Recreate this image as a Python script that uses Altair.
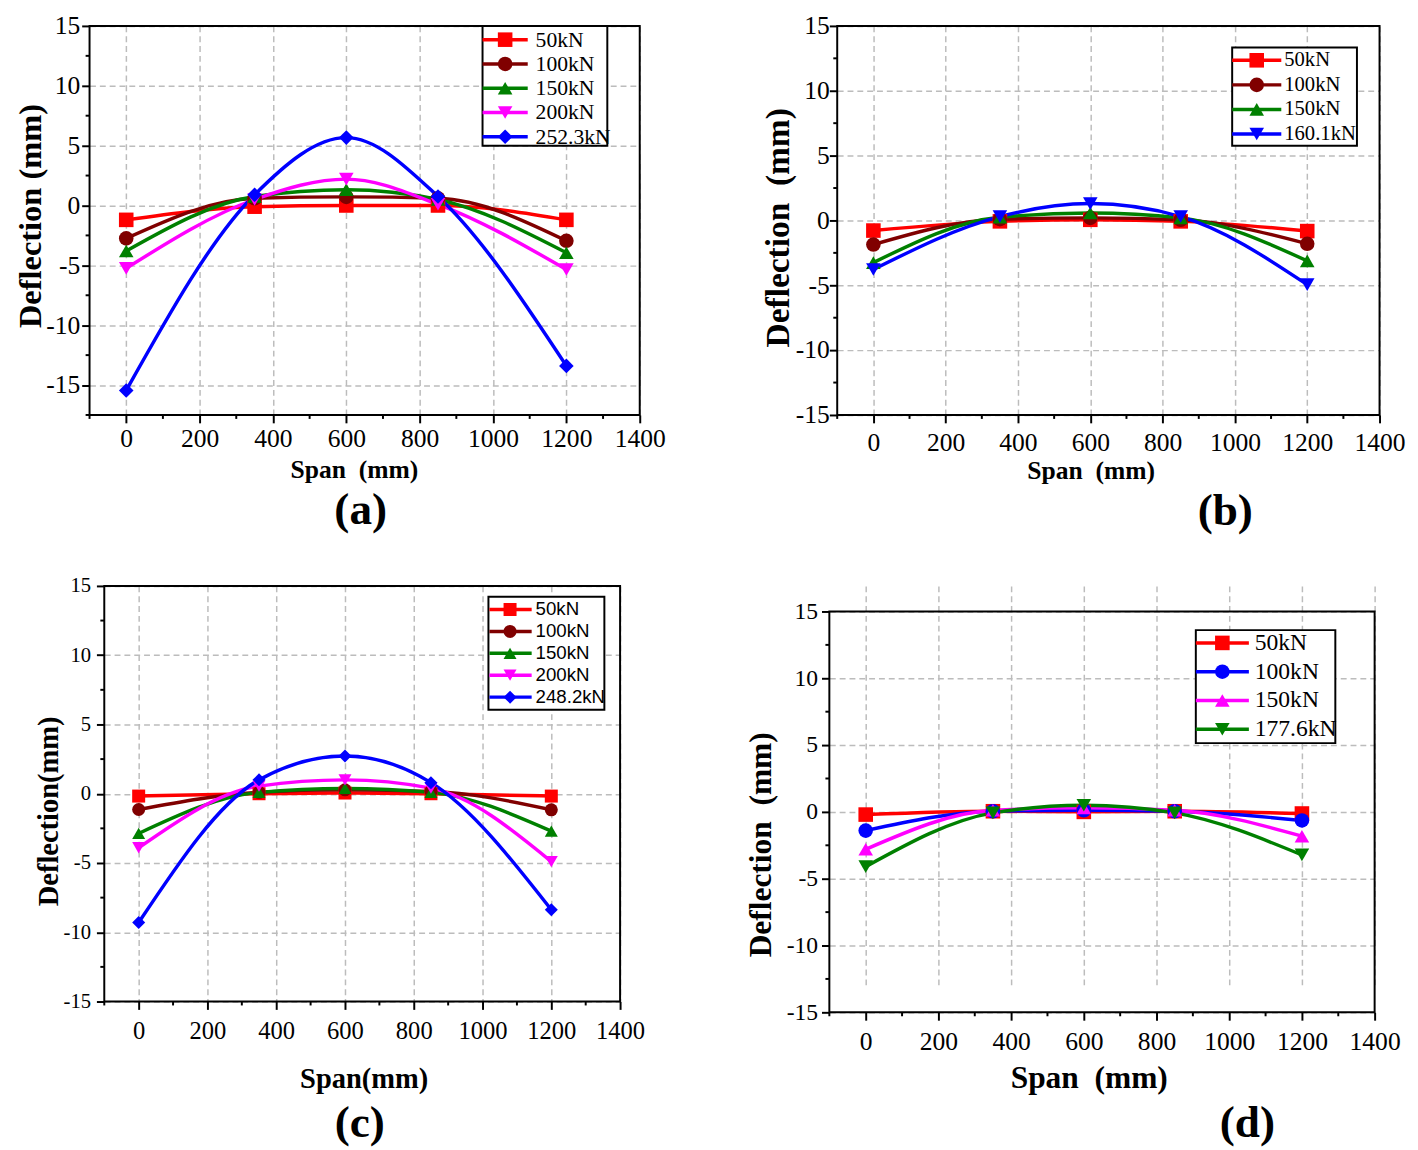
import altair as alt
import pandas as pd

# ---------------- data ----------------
span = [0, 350, 600, 850, 1200]

a_names = ["50kN", "100kN", "150kN", "200kN", "252.3kN"]
a_50 = [-1.2, -0.1, 0.0, 0.0, -1.2]
a_100 = [-2.75, 0.6, 0.72, 0.6, -2.95]
a_150 = [-3.8, 0.75, 1.32, 0.5, -3.95]
a_200 = [-5.25, 0.5, 2.2, 0.1, -5.35]
a_252 = [-15.45, 0.9, 5.67, 0.75, -13.4]

b_names = ["50kN", "100kN", "150kN", "160.1kN"]
b_50 = [-0.78, -0.07, 0.05, -0.07, -0.82]
b_100 = [-1.86, 0.1, 0.2, 0.05, -1.8]
b_150 = [-3.25, 0.25, 0.57, 0.2, -3.12]
b_160 = [-3.78, 0.3, 1.3, 0.3, -4.95]

c_names = ["50kN", "100kN", "150kN", "200kN", "248.2kN"]
c_50 = [-0.17, 0.0, 0.05, 0.0, -0.17]
c_100 = [-1.14, 0.1, 0.28, 0.17, -1.16]
c_150 = [-2.87, 0.1, 0.38, 0.1, -2.7]
c_200 = [-3.9, 0.55, 1.0, 0.4, -4.9]
c_248 = [-9.3, 1.0, 2.72, 0.8, -8.38]

d_names = ["50kN", "100kN", "150kN", "177.6kN"]
d_50 = [-0.2, 0.05, 0.0, 0.05, -0.12]
d_100 = [-1.4, 0.05, 0.12, 0.05, -0.64]
d_150 = [-2.8, 0.12, 0.3, 0.12, -1.82]
d_177 = [-4.1, -0.07, 0.5, -0.07, -3.22]

# tick positions
x_major = [0, 200, 400, 600, 800, 1000, 1200, 1400]
x_minor = [-100, 100, 300, 500, 700, 900, 1100, 1300]
y_major_a = [-15, -10, -5, 0, 5, 10, 15]
y_minor_a = [-17.5, -12.5, -7.5, -2.5, 2.5, 7.5, 12.5]
y_major = [-15, -10, -5, 0, 5, 10, 15]
y_minor = [-12.5, -7.5, -2.5, 2.5, 7.5, 12.5]

# ---------------- styles ----------------
RED, DRED, GREEN, MAG, BLUE = "#FF0000", "#800000", "#008000", "#FF00FF", "#0000FF"
SERIF = "Liberation Serif"
SANS = "Liberation Sans"
NB = "\u00a0"


def long_df(names, series):
    rows = []
    for name, vals in zip(names, series):
        for xv, yv in zip(span, vals):
            rows.append({"span": xv, "defl": yv, "load": name})
    return pd.DataFrame(rows)


def panel(names, series, colors, shapes, cfg):
    df = long_df(names, series)
    ymin = cfg["ymin"]

    xscale = alt.Scale(domain=[-100, 1400], range=cfg["xrange"], nice=False, zero=False)
    yscale = alt.Scale(domain=[ymin, 15], range=cfg["yrange"], nice=False, zero=False)
    cscale = alt.Scale(domain=names, range=colors)
    sscale = alt.Scale(domain=names, range=shapes)

    xaxis = alt.Axis(
        values=x_major,
        labelExpr="'' + datum.value",
        grid=True, gridColor="#bcbcbc", gridDash=[6, 4], gridWidth=1.5,
        domain=False, ticks=True, tickColor="black", tickWidth=2, tickSize=8,
        labelFont=SERIF, labelFontSize=cfg["xtick_fs"], labelColor="black",
        labelPadding=cfg["xlabpad"], labelFlush=False, labelOverlap=False,
        title=cfg["xtitle"], titleFont=SERIF, titleFontWeight="bold",
        titleFontSize=cfg["xtitle_fs"], titleColor="black",
        titleX=cfg["xtitleX"], titleY=cfg["xtitleY"], titleBaseline="middle",
        titleAlign="center",
    )
    yaxis = alt.Axis(
        values=cfg["ymajor"],
        labelExpr="'' + datum.value",
        grid=True, gridColor="#bcbcbc", gridDash=[6, 4], gridWidth=1.5,
        domain=False, ticks=True, tickColor="black", tickWidth=2, tickSize=8,
        labelFont=SERIF, labelFontSize=cfg["ytick_fs"], labelColor="black",
        labelPadding=cfg["ylabpad"], labelFlush=False, labelOverlap=False,
        offset=cfg["yoffset"],
        title=cfg["ytitle"], titleFont=SERIF, titleFontWeight="bold",
        titleFontSize=cfg["ytitle_fs"], titleColor="black",
        titleX=cfg["ytitleX"], titleY=cfg["ytitleY"], titleBaseline="middle",
        titleAlign="center", titleAngle=270,
    )

    base = alt.Chart(df)
    lines = base.mark_line(strokeWidth=3.5, interpolate="monotone").encode(
        x=alt.X("span:Q", scale=xscale, axis=xaxis),
        y=alt.Y("defl:Q", scale=yscale, axis=yaxis),
        color=alt.Color("load:N", scale=cscale, legend=None),
        detail="load:N",
    )
    pts = base.mark_point(filled=True, size=cfg["msize"], opacity=1).encode(
        x=alt.X("span:Q", scale=xscale),
        y=alt.Y("defl:Q", scale=yscale),
        color=alt.Color("load:N", scale=cscale, legend=None),
        shape=alt.Shape("load:N", scale=sscale, legend=None),
    )
    frame = alt.Chart(alt.Data(values=[{"f": 1}])).mark_rect(
        fill="transparent", stroke="black", strokeWidth=2
    ).encode(
        x=alt.X(datum=-100, scale=xscale),
        x2=alt.X2(datum=1400),
        y=alt.Y(datum=ymin, scale=yscale),
        y2=alt.Y2(datum=15),
    )
    # minor ticks
    xb = cfg["yrange"][0]
    xl = cfg["xrange"][0]
    xminor = alt.Chart(pd.DataFrame({"span": x_minor})).mark_rule(
        color="black", strokeWidth=2
    ).encode(
        x=alt.X("span:Q", scale=xscale),
        y=alt.value(xb), y2=alt.value(xb + 4),
    )
    yminor = alt.Chart(pd.DataFrame({"defl": cfg["yminor"]})).mark_rule(
        color="black", strokeWidth=2
    ).encode(
        y=alt.Y("defl:Q", scale=yscale),
        x=alt.value(xl - 4), x2=alt.value(xl),
    )

    # legend
    L = cfg["legend"]
    box = alt.Chart(alt.Data(values=[{"f": 1}])).mark_rect(
        fill="white", stroke="black", strokeWidth=2
    ).encode(
        x=alt.value(L["box"][0]), x2=alt.value(L["box"][1]),
        y=alt.value(L["box"][2]), y2=alt.value(L["box"][3]),
    )
    ldf = pd.DataFrame({"load": names, "order": list(range(len(names)))})
    lbase = alt.Chart(ldf).transform_calculate(
        ly=f"{L['row0']} + datum.order * {L['dy']}"
    )
    lrule = lbase.mark_rule(strokeWidth=3.5).encode(
        x=alt.value(L["line"][0]), x2=alt.value(L["line"][1]),
        y=alt.Y("ly:Q", scale=None),
        color=alt.Color("load:N", scale=cscale, legend=None),
    )
    lpts = lbase.mark_point(filled=True, size=cfg["msize"], opacity=1).encode(
        x=alt.value(L["marker"]),
        y=alt.Y("ly:Q", scale=None),
        color=alt.Color("load:N", scale=cscale, legend=None),
        shape=alt.Shape("load:N", scale=sscale, legend=None),
    )
    ltxt = lbase.mark_text(
        align="left", baseline="middle", font=L["font"], fontSize=L["fs"], color="black"
    ).encode(
        x=alt.value(L["text"]),
        y=alt.Y("ly:Q", scale=None),
        text="load:N",
    )

    ch = alt.layer(lines, pts, xminor, yminor, frame, box, lrule, lpts, ltxt).properties(
        width=cfg["w"], height=cfg["h"],
        title=alt.TitleParams(
            text=cfg["label"], orient="bottom", anchor="middle", frame="group",
            font=SERIF, fontSize=46, fontWeight="bold", color="black",
            dx=cfg["ldx"], offset=cfg["loff"],
        ),
    )
    return ch


cfg_a = dict(
    ymin=-17.5, ymajor=y_major_a, yminor=y_minor_a,
    w=560, h=396, xrange=[0, 560], yrange=[396, 0], yoffset=0,
    xtick_fs=26, ytick_fs=26, xlabpad=3, ylabpad=2, msize=220,
    xtitle="Span" + NB + NB + "(mm)", xtitle_fs=26, xtitleX=269, xtitleY=56,
    ytitle="Deflection (mm)", ytitle_fs=33, ytitleX=-60, ytitleY=193,
    label="(a)", ldx=-4, loff=6,
    legend=dict(box=[400, 527, 0, 122], row0=14, dy=24.7, line=[400, 446], marker=423,
                text=454, font=SERIF, fs=22),
)
cfg_b = dict(
    ymin=-15, ymajor=y_major, yminor=y_minor,
    w=560, h=396, xrange=[8, 560], yrange=[396, 0], yoffset=-8,
    xtick_fs=26, ytick_fs=26, xlabpad=7, ylabpad=0, msize=220,
    xtitle="Span" + NB + NB + "(mm)", xtitle_fs=26, xtitleX=266, xtitleY=57,
    ytitle="Deflection" + NB + NB + "(mm)", ytitle_fs=34, ytitleX=-60, ytitleY=205,
    label="(b)", ldx=123, loff=6,
    legend=dict(box=[410, 537, 22, 122], row0=35, dy=25, line=[410, 460], marker=435,
                text=463, font=SERIF, fs=21),
)
cfg_c = dict(
    ymin=-15, ymajor=y_major, yminor=y_minor,
    w=540, h=423, xrange=[15, 540], yrange=[423, 0], yoffset=-15,
    xtick_fs=25, ytick_fs=21, xlabpad=10, ylabpad=6, msize=175,
    xtitle="Span(mm)", xtitle_fs=29, xtitleX=279, xtitleY=79,
    ytitle="Deflection(mm)", ytitle_fs=29, ytitleX=-57, ytitleY=229,
    label="(c)", ldx=5, loff=8,
    legend=dict(box=[406, 524, 11, 126], row0=24, dy=22.3, line=[407, 450], marker=428,
                text=454, font=SANS, fs=19),
)
cfg_d = dict(
    ymin=-15, ymajor=y_major, yminor=y_minor,
    w=555, h=434, xrange=[0, 555], yrange=[434, 26], yoffset=0,
    xtick_fs=26, ytick_fs=24, xlabpad=9, ylabpad=4, msize=220,
    xtitle="Span" + NB + NB + "(mm)", xtitle_fs=32, xtitleX=264, xtitleY=67,
    ytitle="Deflection" + NB + NB + "(mm)", ytitle_fs=32, ytitleX=-70, ytitleY=263,
    label="(d)", ldx=148, loff=8,
    legend=dict(box=[373, 515, 45, 160], row0=58, dy=29.3, line=[373, 427], marker=400,
                text=433, font=SERIF, fs=24),
)

pa = panel(a_names, [a_50, a_100, a_150, a_200, a_252],
           [RED, DRED, GREEN, MAG, BLUE],
           ["square", "circle", "triangle-up", "triangle-down", "diamond"], cfg_a)
pb = panel(b_names, [b_50, b_100, b_150, b_160],
           [RED, DRED, GREEN, BLUE],
           ["square", "circle", "triangle-up", "triangle-down"], cfg_b)
pc = panel(c_names, [c_50, c_100, c_150, c_200, c_248],
           [RED, DRED, GREEN, MAG, BLUE],
           ["square", "circle", "triangle-up", "triangle-down", "diamond"], cfg_c)
pd_ = panel(d_names, [d_50, d_100, d_150, d_177],
            [RED, BLUE, MAG, GREEN],
            ["square", "circle", "triangle-up", "triangle-down"], cfg_d)

chart = alt.concat(
    pa, pb, pc, pd_, columns=2, spacing={"row": 174, "column": 193}, bounds="flush"
).resolve_scale(
    x="independent", y="independent", color="independent", shape="independent"
).properties(
    padding={"left": 7, "top": -5, "right": 5, "bottom": 0},
    background="white",
).configure_view(strokeWidth=0)

chart.save("out.html", embed_options={"renderer": "svg", "actions": False})
